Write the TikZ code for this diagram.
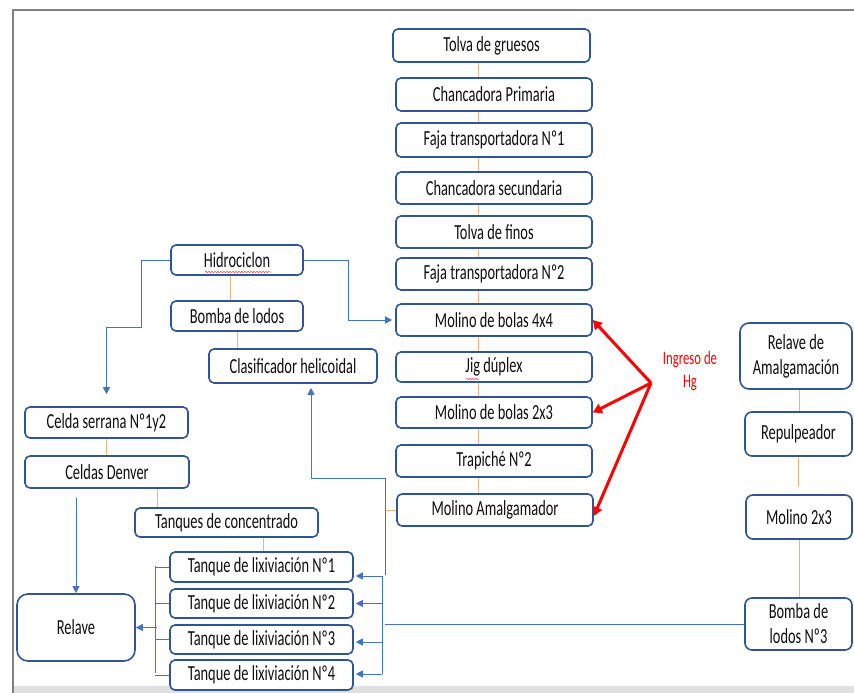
\documentclass[tikz,border=0pt]{standalone}
\usepackage{fontspec}
\setmainfont{Carlito}
\newfontfamily\boxfont[FakeStretch=0.67]{Carlito}
\usetikzlibrary{arrows.meta,decorations.pathmorphing,calc}
\definecolor{boxblue}{RGB}{47,85,151}
\definecolor{linkblue}{RGB}{68,114,196}
\definecolor{linkorange}{RGB}{244,177,131}
\definecolor{framegray}{RGB}{128,128,128}
\definecolor{bandgray}{RGB}{224,224,224}
\definecolor{txt}{RGB}{15,15,15}
\begin{document}
\begin{tikzpicture}[x=1pt,y=-1pt,
  box/.style={draw=boxblue,line width=1.6pt,rounded corners=5pt,fill=white,inner sep=0pt,align=center,
    font=\boxfont\fontsize{21.5}{25}\selectfont,text=txt},
  wh/.style 2 args={minimum width=#1pt,minimum height=#2pt},
  orangeline/.style={draw=linkorange,line width=1pt},
  blueline/.style={draw=linkblue,line width=1pt},
  bluearrow/.style={blueline,-{Triangle[length=7pt,width=7pt]}},
  redarrow/.style={draw=red,line width=3pt,-{Triangle[length=9pt,width=10pt]}},
  squiggle/.style={draw=red!70,line width=0.5pt,decorate,decoration={snake,amplitude=0.8pt,segment length=3pt}}]
\useasboundingbox (0,0) rectangle (854,693);
\fill[white] (0,0) rectangle (854,693);
% frame
\fill[bandgray] (13,686) rectangle (854,693);
\draw[framegray,line width=2pt] (13,693) -- (13,10.5) -- (854,10.5);

% helper coordinates
\coordinate (ox) at (478,0);
\coordinate (h1) at (141,327);
\coordinate (h2) at (348,320);
\coordinate (j1) at (385,478);
\coordinate (j2) at (385,575);
\coordinate (j3) at (311,478);
\coordinate (rb) at (382,0);
\coordinate (lb) at (155,0);
\coordinate (hg) at (651,383);

% central column
\node[box,wh={197}{33}] (tg) at (491.5,45.5) {Tolva de gruesos};
\node[box,wh={196}{33}] (cp) at (494,94.5) {Chancadora Primaria};
\node[box,wh={196}{34}] (f1) at (494,140) {Faja transportadora Nº1};
\node[box,wh={196}{32}] (cs) at (494,188) {Chancadora secundaria};
\node[box,wh={196}{32}] (tf) at (494,232) {Tolva de finos};
\node[box,wh={196}{32}] (f2) at (494,274) {Faja transportadora Nº2};
\node[box,wh={196}{32}] (m44) at (494,320) {Molino de bolas 4x4};
\node[box,wh={196}{30}] (jig) at (494,367) {Jig dúplex};
\node[box,wh={196}{31}] (m23) at (494,412.5) {Molino de bolas 2x3};
\node[box,wh={196}{32}] (tr) at (494,461) {Trapiché Nº2};
\node[box,wh={196}{32}] (ma) at (495,510) {Molino Amalgamador};

% left column
\node[box,wh={132}{30}] (hid) at (237,260) {Hidrociclon};
\node[box,wh={132}{30}] (bl) at (237,316) {Bomba de lodos};
\node[box,wh={168}{34}] (ch) at (293,366) {Clasificador helicoidal};
\node[box,wh={163}{31}] (cel) at (106.5,422.5) {Celda serrana Nº1y2};
\node[box,wh={164}{32}] (den) at (107,472) {Celdas Denver};
\node[box,wh={183}{29}] (tc) at (226.5,522.5) {Tanques de concentrado};
\node[box,wh={183}{30}] (t1) at (261.5,567) {Tanque de lixiviación Nº1};
\node[box,wh={183}{29}] (t2) at (261.5,603.5) {Tanque de lixiviación Nº2};
\node[box,wh={183}{29}] (t3) at (261.5,639.5) {Tanque de lixiviación Nº3};
\node[box,wh={183}{30}] (t4) at (261.5,675) {Tanque de lixiviación Nº4};
\node[box,wh={118}{67},rounded corners=11pt] (rel) at (76,627.5) {Relave};

% right column
\node[box,wh={112}{66},rounded corners=9pt] (ra) at (796,356) {Relave de\\Amalgamación};
\node[box,wh={107}{44},rounded corners=7pt] (rp) at (798.5,434) {Repulpeador};
\node[box,wh={106}{44},rounded corners=7pt] (m2) at (799,517) {Molino 2x3};
\node[box,wh={107}{52},rounded corners=7pt] (bn3) at (798.5,624) {Bomba de\\lodos Nº3};

% spell-check marks
\draw[squiggle] (205,272) -- (271,272);
\draw[squiggle] (466,379) -- (479,379);

% orange connectors, central column
\draw[orangeline] (tg.south -| ox) -- (cp.north -| ox);
\draw[orangeline] (cp.south -| ox) -- (f1.north -| ox);
\draw[orangeline] (f1.south -| ox) -- (cs.north -| ox);
\draw[orangeline] (cs.south -| ox) -- (tf.north -| ox);
\draw[orangeline] (tf.south -| ox) -- (f2.north -| ox);
\draw[orangeline] (f2.south -| ox) -- (m44.north -| ox);
\draw[orangeline] (m44.south -| ox) -- (jig.north -| ox);
\draw[orangeline] (jig.south -| ox) -- (m23.north -| ox);
\draw[orangeline] (m23.south -| ox) -- (tr.north -| ox);
\draw[orangeline] (tr.south -| ox) -- (ma.north -| ox);

% orange connectors, left
\draw[orangeline] ([xshift=-7pt]hid.south) -- ([xshift=-7pt]bl.north);
\draw[orangeline] (bl.south) -- (bl.south |- ch.north);
\draw[orangeline] (cel.south) -- (cel.south |- den.north);
\draw[orangeline] ([xshift=50pt]den.south) -- ([xshift=50pt]den.south |- tc.north);
\draw[orangeline] ([xshift=36.5pt]tc.south) -- ([xshift=36.5pt]tc.south |- t1.north);

% orange connectors, right
\draw[orangeline] ([xshift=3pt]ra.south) -- ([xshift=3pt]ra.south |- rp.north);
\draw[orangeline,shorten >=7pt] (rp.south) -- (rp.south |- m2.north);
\draw[orangeline] (m2.south) -- (m2.south |- bn3.north);
\draw[orangeline] (ma.west) -- (ma.west -| j1);

% blue connectors
\draw[bluearrow] (hid.west) -| (h1) -| ([yshift=12pt]cel.north);
\draw[bluearrow,shorten >=3pt] (hid.east) -| (h2) -- (m44.west);
\draw[bluearrow] ([yshift=-9pt]den.south -| rel.north) -- (rel.north);
\draw[blueline] (j2) -- (j1);
\draw[bluearrow,shorten >=4pt] (j1) -- (j3) -- (j3 |- ch.south);
\draw[blueline] (bn3.west) -- (bn3.west -| j1);

% right bracket to lixiviation tanks
\draw[blueline] (382,576) -- (382,674);
\draw[bluearrow,shorten >=2pt] ([yshift=-9pt]t1.east -| rb) -- ([yshift=-9pt]t1.east);
\draw[bluearrow,shorten >=2pt] (t2.east -| rb) -- (t2.east);
\draw[bluearrow,shorten >=2pt] ([yshift=-2.5pt]t3.east -| rb) -- ([yshift=-2.5pt]t3.east);
\draw[bluearrow,shorten >=2pt] ([yshift=1pt]t4.east -| rb) -- ([yshift=1pt]t4.east);

% left bracket to Relave
\draw[blueline] (155,566) -- (155,673);
\draw[blueline] (t1.west -| lb) -- (t1.west);
\draw[blueline] (t2.west -| lb) -- (t2.west);
\draw[blueline] (t3.west -| lb) -- (t3.west);
\draw[blueline] (t4.west -| lb) -- (t4.west);
\draw[bluearrow] ([xshift=2pt]rel.east -| lb) -- (rel.east);

% mercury input
\draw[redarrow] (hg) -- (m44.east);
\draw[redarrow] (hg) -- (m23.east);
\draw[redarrow] (hg) -- ([yshift=-6pt]ma.east);
\node[text=red,align=center,font=\boxfont\fontsize{19}{23}\selectfont] (ing) at (690,371) {Ingreso de\\Hg};
\end{tikzpicture}
\end{document}
